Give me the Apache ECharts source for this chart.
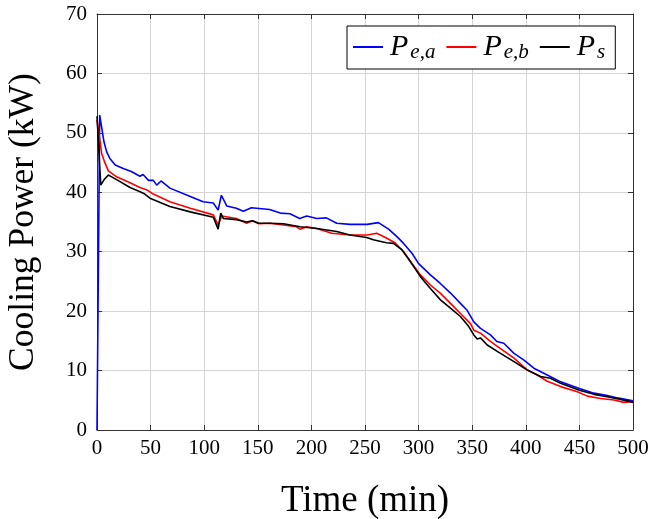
<!DOCTYPE html>
<html>
<head>
<meta charset="utf-8">
<script src="https://cdn.jsdelivr.net/npm/echarts@6/dist/echarts.min.js"></script>
<style>html,body{margin:0;padding:0;background:#fff}#c{width:652px;height:519px}</style>
</head>
<body>
<div id="c"></div>
<script>
var xTicks = [0, 50, 100, 150, 200, 250, 300, 350, 400, 450, 500];
var yTicks = [0, 10, 20, 30, 40, 50, 60, 70];

var tA = [0, 2.5, 4, 6.5, 9, 12, 17, 24.5, 32, 40, 43, 48, 52.5, 55.7, 59.7, 68, 87, 99, 108.5, 113, 116, 121, 130, 136.5, 144, 161, 171, 180, 189, 195.6, 205, 214, 223.6, 236, 252, 262.5, 272, 280, 286, 294, 300, 311, 320, 330, 339, 345, 351.5, 357.7, 367, 373, 379.5, 389, 398, 407.5, 420, 432.5, 450, 463.6, 476, 485.4, 500];
var vA = [0, 53, 53, 48.5, 46.8, 45.7, 44.6, 44.0, 43.5, 42.7, 43.0, 42.0, 42.0, 41.2, 41.9, 40.7, 39.3, 38.4, 38.2, 37.0, 39.5, 37.7, 37.3, 36.8, 37.4, 37.1, 36.5, 36.4, 35.6, 36.0, 35.6, 35.7, 34.8, 34.6, 34.6, 34.9, 33.8, 32.5, 31.4, 29.7, 28.0, 26.1, 24.7, 23.0, 21.3, 20.2, 18.2, 17.1, 16.0, 14.9, 14.6, 12.9, 11.8, 10.4, 9.25, 8.1, 7.0, 6.2, 5.8, 5.4, 4.9];

var tB = [0, 1.5, 4.4, 7.5, 10.6, 18.3, 30.8, 40, 46.6, 52.5, 68, 87, 108.5, 113, 116.3, 130, 139.6, 145, 151, 161, 174, 186, 189.4, 195.6, 205, 219, 236, 252, 261, 269, 278, 286, 294, 301.7, 311, 320.4, 329.7, 339, 348.4, 351.5, 357.7, 367, 376.4, 389, 401.4, 410.7, 420, 432.5, 448, 457.4, 469.8, 482.3, 491.5, 500];
var vB = [52.2, 50.2, 46.5, 44.9, 43.6, 42.6, 41.6, 40.8, 40.4, 39.7, 38.4, 37.3, 36.2, 34.5, 36.0, 35.6, 34.8, 35.2, 34.7, 34.8, 34.5, 34.2, 33.8, 34.2, 33.9, 33.1, 32.8, 32.8, 33.1, 32.4, 31.5, 30.0, 28.0, 26.1, 24.4, 23.0, 21.3, 19.6, 17.9, 16.8, 16.3, 14.9, 13.7, 12.1, 10.1, 9.25, 8.2, 7.3, 6.45, 5.7, 5.3, 5.05, 4.65, 4.8];

var tS = [0, 3.5, 6.5, 10.6, 13.7, 21.5, 30.8, 40.2, 44.5, 49.4, 68, 87, 108.5, 113, 115.4, 117.8, 130, 139.6, 145, 151, 161, 174, 189.4, 205, 223.6, 236, 251.6, 257.7, 270, 276.5, 284.6, 292.4, 301.7, 311, 320.4, 329.7, 339, 346.8, 351.5, 354.7, 357.7, 364, 376.4, 389, 401.4, 413.8, 423, 432.5, 450, 463.6, 476, 488.5, 500];
var vS = [52.8, 41.2, 42.1, 42.9, 42.6, 41.8, 40.8, 40.1, 39.7, 39.0, 37.6, 36.7, 35.8, 33.8, 36.5, 35.6, 35.4, 35.0, 35.2, 34.8, 34.8, 34.7, 34.2, 33.9, 33.4, 32.8, 32.4, 32.0, 31.5, 31.4, 30.3, 28.3, 25.8, 23.8, 21.9, 20.5, 19.1, 17.4, 16.0, 15.3, 15.5, 14.3, 12.9, 11.5, 10.1, 9.0, 8.7, 7.85, 6.7, 6.0, 5.6, 5.15, 4.65];

var names = ['Pe,a', 'Pe,b', 'Ps'];
var legendRich = {'Pe,a': '{p|P}{s|e,a}', 'Pe,b': '{p|P}{s|e,b}', 'Ps': '{p|P}{s|s}'};

function pairs(t, v) { return t.map(function (x, i) { return [x, v[i]]; }); }

var FONT = 'Liberation Serif';
var chart = echarts.init(document.getElementById('c'), null, {renderer: 'canvas'});
var axisLineStyle = {color: '#333', width: 1};
var gridStyle = {color: '#d4d4d4', width: 1};

function xAx(pos, show) {
  return {
    type: 'value', position: pos, min: 0, max: 500, interval: 50,
    name: show ? 'Time (min)' : '', nameLocation: 'middle', nameGap: 53,
    nameTextStyle: {fontFamily: FONT, fontSize: 37, color: '#000'},
    axisLine: {show: true, onZero: false, lineStyle: axisLineStyle},
    axisTick: {show: true, inside: true, length: 5, lineStyle: axisLineStyle},
    axisLabel: {show: show, fontFamily: FONT, fontSize: 21, color: '#000', margin: 8},
    splitLine: {show: show, lineStyle: gridStyle}
  };
}
function yAx(pos, show) {
  return {
    type: 'value', position: pos, min: 0, max: 70, interval: 10,
    name: show ? 'Cooling Power (kW)' : '', nameLocation: 'middle', nameGap: 55, nameRotate: 90,
    nameTextStyle: {fontFamily: FONT, fontSize: 35.5, color: '#000'},
    axisLine: {show: true, onZero: false, lineStyle: axisLineStyle},
    axisTick: {show: true, inside: true, length: 5, lineStyle: axisLineStyle},
    axisLabel: {show: show, fontFamily: FONT, fontSize: 21, color: '#000', margin: 10},
    splitLine: {show: show, lineStyle: gridStyle}
  };
}

chart.setOption({
  animation: false,
  backgroundColor: '#fff',
  grid: {left: 97, right: 19, top: 14, bottom: 89, containLabel: false, outerBoundsMode: 'none'},
  xAxis: [xAx('bottom', true), xAx('top', false)],
  yAxis: [yAx('left', true), yAx('right', false)],
  legend: {
    left: 347, top: 26,
    data: names,
    backgroundColor: '#fff',
    borderColor: '#000', borderWidth: 1, borderRadius: 0,
    padding: [6, 10, 6, 6],
    itemGap: 11, itemWidth: 30, itemHeight: 2,
    icon: 'rect',
    formatter: function (n) { return legendRich[n]; },
    textStyle: {
      fontFamily: FONT, color: '#000',
      rich: {
        p: {fontFamily: FONT, fontStyle: 'italic', fontSize: 30, color: '#000', padding: [0, 0, 0, 2]},
        s: {fontFamily: FONT, fontStyle: 'italic', fontSize: 21, color: '#000', verticalAlign: 'bottom', padding: [11, 0, 0, 2]}
      }
    }
  },
  series: [
    {name: names[0], type: 'line', data: pairs(tA, vA), showSymbol: false, symbol: 'none', lineStyle: {color: '#0000ff', width: 1.6}, itemStyle: {color: '#0000ff'}, z: 3},
    {name: names[1], type: 'line', data: pairs(tB, vB), showSymbol: false, symbol: 'none', lineStyle: {color: '#ff0000', width: 1.6}, itemStyle: {color: '#ff0000'}, z: 4},
    {name: names[2], type: 'line', data: pairs(tS, vS), showSymbol: false, symbol: 'none', lineStyle: {color: '#000000', width: 1.6}, itemStyle: {color: '#000000'}, z: 5}
  ]
});
</script>
</body>
</html>
